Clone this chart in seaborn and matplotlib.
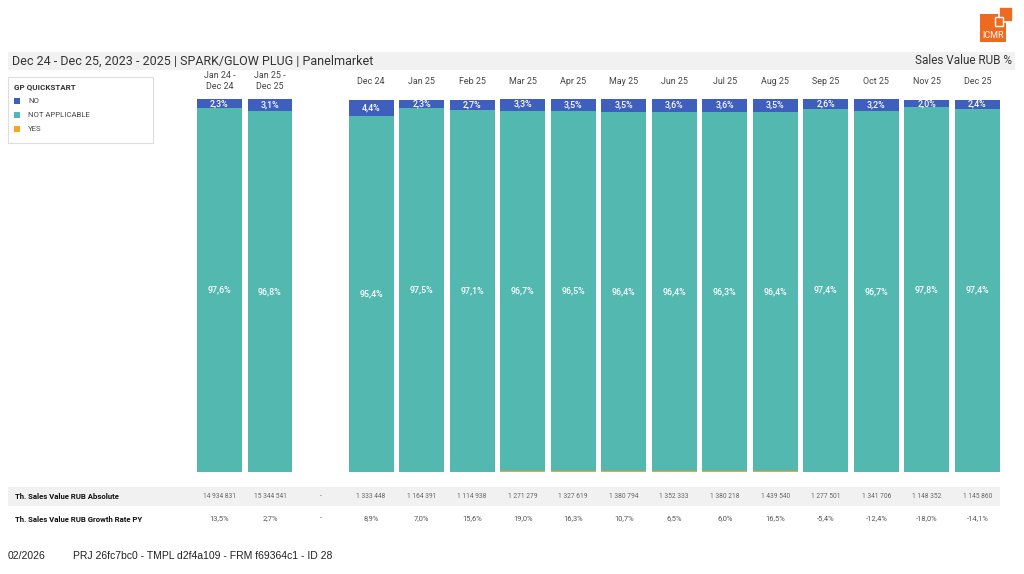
import numpy as np
import pandas as pd
import matplotlib
matplotlib.use("Agg")
import matplotlib.pyplot as plt
import seaborn as sns
from matplotlib.patches import Rectangle
from matplotlib.transforms import blended_transform_factory

sns.set_theme(style="white")
plt.rcParams['font.family'] = ['Roboto', 'DejaVu Sans']

# ---------------- data ----------------
columns = ["Jan 24 -\nDec 24", "Jan 25 -\nDec 25", "", "Dec 24", "Jan 25", "Feb 25", "Mar 25",
           "Apr 25", "May 25", "Jun 25", "Jul 25", "Aug 25", "Sep 25", "Oct 25", "Nov 25", "Dec 25"]
share_no = [2.3, 3.1, np.nan, 4.4, 2.3, 2.7, 3.3, 3.5, 3.5, 3.6, 3.6, 3.5, 2.6, 3.2, 2.0, 2.4]
share_na = [97.6, 96.8, np.nan, 95.4, 97.5, 97.1, 96.7, 96.5, 96.4, 96.4, 96.3, 96.4, 97.4, 96.7, 97.8, 97.4]
share_yes = [0.0, 0.0, np.nan, 0.0, 0.0, 0.0, 0.2, 0.2, 0.2, 0.2, 0.2, 0.2, 0.0, 0.0, 0.0, 0.0]
abs_values = ["14 934 831", "15 344 541", "-", "1 333 448", "1 164 391", "1 114 938", "1 271 279",
              "1 327 619", "1 380 794", "1 352 333", "1 380 218", "1 439 540", "1 277 501",
              "1 341 706", "1 148 352", "1 145 860"]
growth_values = ["13,5%", "2,7%", "-", "8,9%", "7,0%", "15,6%", "19,0%", "16,3%", "10,7%", "6,5%",
                 "6,0%", "16,5%", "-5,4%", "-12,4%", "-18,0%", "-14,1%"]
legend_items = ["NO", "NOT APPLICABLE", "YES"]

C_NO = "#3f5fbf"
C_NA = "#52b8b0"
C_YES = "#f5a623"

# ---------------- figure ----------------
W, H = 1024, 574
fig = plt.figure(figsize=(W / 100, H / 100), dpi=100)


def fx(x):
    return x / W


def fy(y):
    return 1 - y / H


def frect(x0, y0, x1, y1, **kw):
    fig.patches.append(Rectangle((fx(x0), fy(y1)), fx(x1) - fx(x0), fy(y0) - fy(y1),
                                 transform=fig.transFigure, **kw))


# title band
frect(8, 52, 1015, 70, facecolor="#f1f1f1", edgecolor="none", zorder=-1)
fig.text(fx(12), fy(61), "Dec 24 - Dec 25, 2023 - 2025 | SPARK/GLOW PLUG | Panelmarket",
         fontsize=9, color="#333333", va="center", ha="left")
fig.text(fx(1012), fy(61), "Sales Value RUB %", fontsize=8.5, color="#333333", va="center", ha="right")

# logo
logo_orange = "#ee6a1f"
frect(980, 14, 1006, 42, facecolor=logo_orange, edgecolor="none", zorder=2)
frect(999, 7, 1013, 22, facecolor=logo_orange, edgecolor="white", linewidth=1.2, zorder=3)
frect(995, 17, 1003, 26, facecolor=logo_orange, edgecolor="white", linewidth=1.0, zorder=4)
fig.text(fx(993), fy(35.5), "ICMR", fontsize=6.5, color="white", ha="center", va="center", zorder=5)

# legend box
frect(8, 77, 153, 143, facecolor="white", edgecolor="#dddddd", linewidth=0.8, zorder=1)
fig.text(fx(14), fy(87), "GP QUICKSTART", fontsize=5.8, fontweight="bold", color="#333333",
         va="center", ha="left")
for k, (lab, col) in enumerate(zip(legend_items, [C_NO, C_NA, C_YES])):
    yy = 101 + 14 * k
    frect(14, yy - 3, 20, yy + 3, facecolor=col, edgecolor="none", zorder=2)
    fig.text(fx(28), fy(yy), lab, fontsize=5.6, color="#444444", va="center", ha="left")

# main bar axes
left_px, right_px = 194.2, 1002.7
top_px, bot_px = 99, 472
ax = fig.add_axes([fx(left_px), fy(bot_px), fx(right_px) - fx(left_px), fy(top_px) - fy(bot_px)])

df = pd.DataFrame({"col": columns, "no": share_no, "na": share_na, "yes": share_yes})
df = df[df["col"] != ""].copy()
df["top_no"] = df["yes"] + df["na"] + df["no"]
df["top_na"] = df["yes"] + df["na"]

bw = 0.89
sns.barplot(data=df, x="col", y="top_no", order=columns, color=C_NO, saturation=1,
            width=bw, linewidth=0, errorbar=None, ax=ax)
sns.barplot(data=df, x="col", y="top_na", order=columns, color=C_NA, saturation=1,
            width=bw, linewidth=0, errorbar=None, ax=ax)
sns.barplot(data=df, x="col", y="yes", order=columns, color=C_YES, saturation=1,
            width=bw, linewidth=0, errorbar=None, ax=ax)

ax.set_xlim(-0.5, len(columns) - 0.5)
ax.set_ylim(0, 100)
ax.axis("off")

# value labels in bars
for i, c in enumerate(columns):
    if c == "":
        continue
    y0 = share_yes[i]
    na_mid = y0 + share_na[i] / 2
    no_mid = y0 + share_na[i] + share_no[i] / 2
    ax.text(i, na_mid, f"{share_na[i]:.1f}%".replace(".", ","), color="white", fontsize=6.4,
            fontweight="medium", ha="center", va="center")
    ax.text(i, no_mid, f"{share_no[i]:.1f}%".replace(".", ","), color="white", fontsize=6.4,
            fontweight="medium", ha="center", va="center")

# column headers and table rows
tr = blended_transform_factory(ax.transData, fig.transFigure)
for i, c in enumerate(columns):
    if c:
        ax.text(i, fy(81), c, transform=tr, fontsize=6.4, color="#444444", ha="center", va="center",
                linespacing=1.35)
    ax.text(i, fy(496.5), abs_values[i], transform=tr, fontsize=4.8, color="#666666",
            ha="center", va="center")
    ax.text(i, fy(519), growth_values[i], transform=tr, fontsize=5.4, color="#555555",
            ha="center", va="center")

frect(8, 487, 1000, 506, facecolor="#f1f1f1", edgecolor="none", zorder=-1)
fig.text(fx(15), fy(496.5), "Th. Sales Value RUB Absolute", fontsize=5.6, fontweight="bold",
         color="#111111", va="center", ha="left")
fig.text(fx(15), fy(519), "Th. Sales Value RUB Growth Rate PY", fontsize=5.6, fontweight="bold",
         color="#111111", va="center", ha="left")

# footer
fig.text(fx(8), fy(556), "02/2026", fontsize=7.5, color="#222222", va="center", ha="left",
         family=["Liberation Sans", "DejaVu Sans"])
fig.text(fx(73), fy(556), "PRJ 26fc7bc0 - TMPL d2f4a109 - FRM f69364c1 - ID 28", fontsize=7.5,
         color="#222222", va="center", ha="left", family=["Liberation Sans", "DejaVu Sans"])

fig.savefig("out.png", dpi=100)
